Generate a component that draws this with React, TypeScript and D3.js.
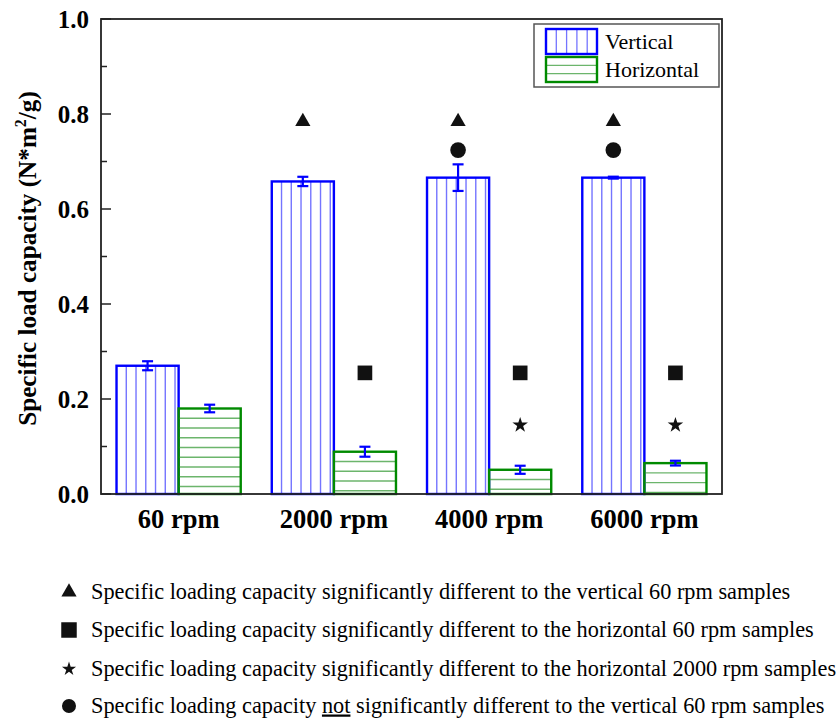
import React from 'react';
import * as d3 from 'd3';

const categories = ['60 rpm', '2000 rpm', '4000 rpm', '6000 rpm'];
const seriesNames = ['Vertical', 'Horizontal'];
const verticalMeans = [0.27, 0.658, 0.666, 0.666];
const verticalErrors = [0.0095, 0.0098, 0.028, 0.002];
const horizontalMeans = [0.18, 0.089, 0.051, 0.065];
const horizontalErrors = [0.008, 0.0105, 0.0085, 0.005];

// significance markers: which category, over which series, at what height
const triangleMarks = [
  { cat: '2000 rpm', series: 'Vertical', value: 0.784 },
  { cat: '4000 rpm', series: 'Vertical', value: 0.784 },
  { cat: '6000 rpm', series: 'Vertical', value: 0.784 },
];
const circleMarks = [
  { cat: '4000 rpm', series: 'Vertical', value: 0.724 },
  { cat: '6000 rpm', series: 'Vertical', value: 0.724 },
];
const squareMarks = [
  { cat: '2000 rpm', series: 'Horizontal', value: 0.255 },
  { cat: '4000 rpm', series: 'Horizontal', value: 0.255 },
  { cat: '6000 rpm', series: 'Horizontal', value: 0.255 },
];
const starMarks = [
  { cat: '4000 rpm', series: 'Horizontal', value: 0.145 },
  { cat: '6000 rpm', series: 'Horizontal', value: 0.145 },
];

const noteTexts = [
  ['Specific loading capacity significantly different to the vertical 60 rpm samples'],
  ['Specific loading capacity significantly different to the horizontal 60 rpm samples'],
  ['Specific loading capacity significantly different to the horizontal 2000 rpm samples'],
  ['Specific loading capacity ', 'not', ' significantly different to the vertical 60 rpm samples'],
];

const W = 837;
const H = 722;
const left = 101, right = 722, top = 19, bottom = 494;
const serif = '"Liberation Serif", "Times New Roman", serif';

const blue = '#0000ff';
const green = '#008a00';

const symTypes: Record<string, any> = {
  triangle: d3.symbolTriangle,
  circle: d3.symbolCircle,
  square: d3.symbolSquare,
  star: d3.symbolStar,
};

export default function App() {
  const y = d3.scaleLinear().domain([0, 1]).range([bottom, top]);
  const x = d3.scaleBand().domain(categories).range([left, right]).paddingInner(0.2).paddingOuter(0.1);
  const xs = d3.scaleBand().domain(seriesNames).range([0, x.bandwidth()]);

  const majorTicks = y.ticks(5);
  const minorTicks = d3.range(0.1, 1, 0.2);

  const bars = categories.flatMap((c, i) => [
    { cat: c, series: 'Vertical', value: verticalMeans[i], err: verticalErrors[i] },
    { cat: c, series: 'Horizontal', value: horizontalMeans[i], err: horizontalErrors[i] },
  ]);

  const hatch = 9.75;

  const sym = (type: string, size: number) => d3.symbol().type(symTypes[type]).size(size)()!;

  const markGroups = [
    { type: 'triangle', data: triangleMarks, size: 100 },
    { type: 'circle', data: circleMarks, size: 193 },
    { type: 'square', data: squareMarks, size: 215 },
    { type: 'star', data: starMarks, size: 75 },
  ];

  const noteSymbols = ['triangle', 'square', 'star', 'circle'];
  const noteSizes = [100, 240, 62, 154];
  const noteY = [592, 630, 669, 706];

  return (
    <svg width={W} height={H} style={{ position: 'absolute', left: 0, top: 0, background: '#fff' }}>
      <rect x={0} y={0} width={W} height={H} fill="#fff" />

      {/* bars */}
      {bars.map((b, i) => {
        const bx = x(b.cat)! + xs(b.series)!;
        const bw = xs.bandwidth();
        const by = y(b.value);
        const bh = y(0) - by;
        const vertical = b.series === 'Vertical';
        const lines = vertical
          ? d3.range(bx + hatch, bx + bw - 1, hatch).map((lx) => ({ x1: lx, x2: lx, y1: by, y2: bottom }))
          : d3.range(by + hatch, bottom - 1, hatch).map((ly) => ({ x1: bx, x2: bx + bw, y1: ly, y2: ly }));
        return (
          <g key={i}>
            {lines.map((l, k) => (
              <line key={k} {...l} stroke={vertical ? '#7474ff' : '#6cb56c'} strokeWidth={1.4} />
            ))}
            <rect x={bx} y={by} width={bw} height={bh} fill="none" stroke={vertical ? blue : green} strokeWidth={2.4} />
          </g>
        );
      })}

      {/* error bars */}
      {bars.map((b, i) => {
        const cx = x(b.cat)! + xs(b.series)! + xs.bandwidth() / 2;
        const y1 = y(b.value + b.err);
        const y2 = y(b.value - b.err);
        return (
          <g key={'e' + i} stroke={blue} strokeWidth={2.2}>
            <line x1={cx} x2={cx} y1={y1} y2={y2} />
            <line x1={cx - 5.5} x2={cx + 5.5} y1={y1} y2={y1} />
            <line x1={cx - 5.5} x2={cx + 5.5} y1={y2} y2={y2} />
          </g>
        );
      })}

      {/* markers */}
      {markGroups.map((g) =>
        g.data.map((m, k) => (
          <path
            key={g.type + k}
            d={sym(g.type, g.size)}
            transform={`translate(${x(m.cat)! + xs(m.series)! + xs.bandwidth() / 2},${y(m.value)})`}
            fill="#111"
          />
        ))
      )}

      {/* frame */}
      <rect x={left} y={top} width={right - left} height={bottom - top} fill="none" stroke="#222" strokeWidth={1.8} />

      {/* y ticks */}
      {majorTicks.map((t) => (
        <g key={'t' + t}>
          <line x1={left} x2={left + 10} y1={y(t)} y2={y(t)} stroke="#222" strokeWidth={1.5} />
          <text x={89} y={y(t) + 9} textAnchor="end" fontFamily={serif} fontWeight="bold" fontSize={25}>
            {d3.format('.1f')(t)}
          </text>
        </g>
      ))}
      {minorTicks.map((t) => (
        <line key={'m' + t} x1={left} x2={left + 6} y1={y(t)} y2={y(t)} stroke="#222" strokeWidth={1.5} />
      ))}

      {/* x labels */}
      {categories.map((c) => (
        <text key={c} x={x(c)! + x.bandwidth() / 2} y={528} textAnchor="middle" fontFamily={serif} fontWeight="bold" fontSize={26.5}>
          {c}
        </text>
      ))}

      {/* y title */}
      <text
        transform={`translate(36,${(top + bottom) / 2 + 2}) rotate(-90)`}
        textAnchor="middle"
        fontFamily={serif}
        fontWeight="bold"
        fontSize={25.2}
      >
        Specific load capacity (N*m<tspan dy={-10} fontSize={16}>2</tspan>
        <tspan dy={10}>/g)</tspan>
      </text>

      {/* legend */}
      <rect x={534} y={24} width={185} height={63} fill="#fff" stroke="#555" strokeWidth={1.5} />
      {seriesNames.map((s, i) => {
        const ly = 29 + i * 28;
        const vertical = s === 'Vertical';
        const lines = vertical
          ? d3.range(546 + 10.3, 597, 10.3).map((lx) => ({ x1: lx, x2: lx, y1: ly, y2: ly + 25 }))
          : d3.range(ly + 8.3, ly + 25, 8.3).map((yy) => ({ x1: 546, x2: 597, y1: yy, y2: yy }));
        return (
          <g key={s}>
            {lines.map((l, k) => (
              <line key={k} {...l} stroke={vertical ? '#7474ff' : '#6cb56c'} strokeWidth={1.3} />
            ))}
            <rect x={546} y={ly} width={51} height={25} fill="none" stroke={vertical ? blue : green} strokeWidth={2.4} />
            <text x={605} y={ly + 20} fontFamily={serif} fontSize={22}>
              {s}
            </text>
          </g>
        );
      })}

      {/* notes */}
      {noteTexts.map((parts, i) => {
        const ny = noteY[i];
        return (
          <g key={'n' + i}>
            <path d={sym(noteSymbols[i], noteSizes[i])} transform={`translate(69,${ny})`} fill="#111" />
            <text x={91} y={ny + 6.5} fontFamily={serif} fontSize={22.3}>
              {parts.map((p, k) => (
                <tspan key={k} textDecoration={p === 'not' ? 'underline' : undefined}>
                  {p}
                </tspan>
              ))}
            </text>
          </g>
        );
      })}
    </svg>
  );
}
